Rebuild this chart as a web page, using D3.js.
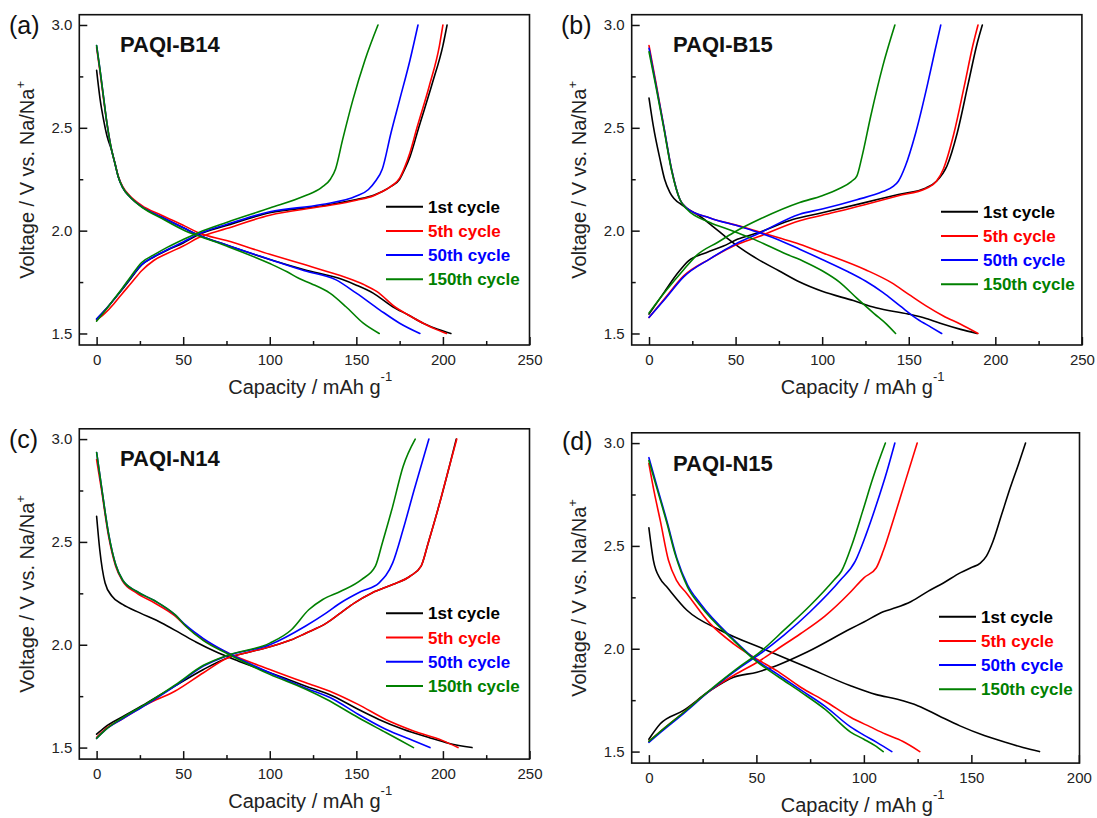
<!DOCTYPE html>
<html><head><meta charset="utf-8">
<script src="https://cdn.jsdelivr.net/npm/d3@7"></script>
<style>body{margin:0;background:#fff}svg{display:block}text{font-family:"Liberation Sans",Arial,Helvetica,sans-serif}</style>
</head><body>
<script>
// ---------- DATA ----------
const cycles = ['1st cycle', '5th cycle', '50th cycle', '150th cycle'];
const cycleColors = ['#000000', '#ff0000', '#0000ff', '#008000'];
const panelLabels = ['(a)', '(b)', '(c)', '(d)'];
const panelTitles = ['PAQI-B14', 'PAQI-B15', 'PAQI-N14', 'PAQI-N15'];
const xTicksWide = [0, 50, 100, 150, 200, 250];
const xTicksNarrow = [0, 50, 100, 150, 200];
const yTicks = [1.5, 2.0, 2.5, 3.0];

// (a) PAQI-B14  [capacity mAh/g, voltage V]
const a1Dis = [[0,2.78],[2,2.64],[4,2.54],[6,2.46],[8.7,2.39],[10.5,2.33],[12.5,2.262],[15,2.21],[19.2,2.165],[26,2.117],[37.5,2.066],[51,2.01],[58.7,1.979],[75,1.93],[100,1.86],[120,1.81],[142,1.762],[150,1.735],[159.7,1.696],[171,1.63],[180,1.59],[188.6,1.55],[197,1.52],[204.6,1.5]];
const a5Dis = [[0,2.89],[2,2.77],[4,2.64],[6,2.52],[8.7,2.39],[10.5,2.33],[12.5,2.265],[15,2.215],[19.2,2.17],[26,2.123],[37.5,2.075],[51,2.022],[58.7,1.99],[75,1.952],[100,1.885],[120,1.835],[135,1.797],[148,1.76],[155,1.735],[161.7,1.705],[173,1.625],[180,1.59],[188.6,1.55],[196,1.52],[202,1.5]];
const a50Dis = [[0,2.9],[2,2.78],[4,2.65],[6,2.52],[8.7,2.39],[10.5,2.33],[12.5,2.262],[15,2.21],[19.2,2.165],[26,2.117],[37.5,2.066],[51,2.01],[58.7,1.979],[75,1.93],[100,1.86],[120,1.805],[138,1.762],[150,1.696],[163.6,1.614],[175,1.55],[186.7,1.5]];
const a150Dis = [[0,2.9],[2,2.78],[4,2.65],[6,2.52],[8.7,2.39],[10.5,2.33],[12.5,2.262],[15,2.21],[19.2,2.165],[26,2.115],[37.5,2.06],[51,2.0],[58.7,1.975],[75,1.925],[100,1.84],[110,1.8],[117,1.767],[124,1.742],[134.7,1.696],[144,1.63],[154,1.55],[163.2,1.5]];
const a1Chg = [[0,1.57],[5,1.615],[10,1.665],[14.4,1.71],[20,1.77],[26,1.833],[33,1.872],[41,1.906],[50,1.94],[58.7,1.98],[75,2.025],[100,2.087],[130,2.12],[150,2.151],[160,2.172],[165,2.19],[170,2.215],[175,2.25],[178,2.3],[181,2.36],[186,2.5],[194,2.72],[200,2.9],[202.4,3.0]];
const a5Chg = [[0,1.565],[5,1.6],[10,1.645],[14.4,1.69],[20,1.745],[26,1.805],[33,1.855],[41,1.89],[50,1.925],[58.7,1.965],[75,2.01],[100,2.075],[130,2.117],[150,2.148],[160,2.17],[165,2.19],[170,2.215],[175,2.255],[178,2.31],[181,2.38],[185,2.5],[192,2.7],[198,2.9],[200,3.0]];
const a50Chg = [[0,1.57],[5,1.615],[10,1.665],[14.4,1.712],[20,1.775],[26,1.835],[33,1.873],[41,1.908],[50,1.945],[58.7,1.983],[75,2.03],[100,2.092],[130,2.127],[150,2.168],[157,2.2],[161,2.24],[165,2.3],[170,2.475],[175,2.636],[181,2.83],[185.6,3.0]];
const a150Chg = [[0,1.56],[5,1.612],[10,1.667],[14.4,1.715],[20,1.78],[26,1.845],[33,1.882],[41,1.92],[50,1.957],[58.7,1.99],[75,2.04],[100,2.11],[120,2.168],[130,2.21],[135,2.25],[138,2.3],[142,2.44],[148,2.636],[155,2.83],[162.5,3.0]];

// (b) PAQI-B15
const b1Dis = [[0,2.645],[2.5,2.508],[6.4,2.345],[9,2.25],[12.1,2.185],[19.8,2.12],[29.4,2.07],[37,2.02],[44.9,1.965],[52,1.92],[62,1.865],[75,1.805],[87,1.75],[100,1.705],[118,1.66],[131,1.625],[150,1.594],[160,1.573],[170,1.545],[180,1.52],[189.5,1.5]];
const b5Dis = [[0,2.9],[4,2.72],[8.5,2.508],[13.1,2.295],[17.9,2.15],[21.8,2.11],[35.2,2.062],[52.5,2.022],[62,1.998],[75,1.965],[87,1.934],[100,1.893],[125,1.81],[140,1.747],[150,1.69],[160,1.634],[170,1.585],[180,1.545],[190,1.5]];
const b50Dis = [[0,2.887],[4,2.71],[8.5,2.508],[13.1,2.295],[17.9,2.15],[21.8,2.11],[35.2,2.062],[52.5,2.02],[62,1.995],[75,1.955],[87,1.91],[100,1.86],[115,1.8],[125,1.755],[135,1.70],[145,1.634],[155,1.57],[163,1.53],[169,1.5]];
const b150Dis = [[0,2.87],[4,2.7],[8.5,2.5],[13.1,2.29],[17.9,2.15],[21.8,2.105],[35.2,2.04],[48,2.0],[60,1.96],[79.5,1.885],[90,1.848],[100,1.805],[110,1.75],[120,1.672],[130,1.597],[137,1.547],[142.4,1.5]];
const b1Chg = [[0,1.594],[8.7,1.70],[16.8,1.796],[22.8,1.853],[33,1.893],[43,1.925],[51,1.958],[63,1.99],[83,2.054],[100,2.087],[124,2.135],[144,2.176],[160,2.208],[166,2.24],[172,2.313],[178,2.475],[184.4,2.717],[189.5,2.91],[192.5,3.0]];
const b5Chg = [[0,1.578],[10,1.68],[20,1.78],[35.2,1.863],[50,1.93],[63,1.97],[87,2.048],[100,2.075],[124,2.125],[144,2.17],[160,2.205],[166,2.24],[170,2.3],[176,2.47],[182,2.7],[187,2.9],[190,3.0]];
const b50Chg = [[0,1.578],[10,1.675],[20,1.775],[35.2,1.863],[50,1.935],[63,1.985],[87,2.08],[100,2.105],[120,2.15],[135,2.19],[141,2.215],[144,2.24],[148,2.313],[154,2.475],[161,2.717],[165,2.87],[168.5,3.0]];
const b150Chg = [[0,1.60],[10,1.71],[20,1.81],[27.5,1.88],[40,1.945],[48.7,1.99],[65,2.06],[87,2.137],[100,2.17],[110,2.205],[117,2.24],[120,2.265],[123,2.36],[128,2.555],[135,2.8],[142,3.0]];

// (c) PAQI-N14
const c1Dis = [[0,2.625],[1.8,2.463],[4.9,2.30],[8.9,2.236],[15,2.196],[25,2.155],[37.3,2.107],[47.5,2.06],[57.6,2.012],[69.8,1.962],[82,1.92],[100,1.864],[120.5,1.80],[136.7,1.75],[151,1.686],[163,1.637],[177,1.589],[191.5,1.55],[203.7,1.52],[216.8,1.5]];
const c5Dis = [[0,2.9],[2.8,2.754],[6.9,2.528],[11,2.382],[15,2.31],[23,2.252],[33.3,2.204],[45.4,2.139],[51.5,2.09],[61.7,2.024],[75.9,1.96],[100,1.88],[120.5,1.816],[136.7,1.767],[151,1.71],[167,1.637],[183.4,1.58],[199.6,1.535],[208.7,1.5]];
const c50Dis = [[0,2.935],[2.8,2.77],[6.9,2.54],[11,2.39],[15,2.315],[23,2.26],[33.3,2.215],[45.4,2.145],[51.5,2.095],[61.7,2.03],[75.9,1.96],[100,1.864],[120.5,1.79],[136.7,1.735],[151,1.662],[167,1.589],[183.4,1.532],[192.5,1.5]];
const c150Dis = [[0,2.935],[2.8,2.77],[6.9,2.54],[11,2.39],[15,2.315],[23,2.26],[33.3,2.215],[45.4,2.145],[51.5,2.09],[61.7,2.02],[75.9,1.955],[100,1.856],[120.5,1.785],[132.7,1.735],[151,1.646],[167,1.573],[183,1.5]];
const c1Chg = [[0,1.565],[4.9,1.60],[15,1.65],[29,1.717],[45.4,1.80],[61.7,1.88],[75.9,1.937],[86,1.96],[100,1.99],[112.5,2.024],[120.5,2.055],[132.7,2.105],[141,2.155],[149,2.204],[159,2.252],[171,2.293],[181,2.333],[187.4,2.382],[191.5,2.495],[197.6,2.673],[203.7,2.867],[207.7,3.0]];
const c5Chg = [[0,1.55],[4.9,1.59],[15,1.64],[29,1.71],[45.4,1.775],[61.7,1.864],[75.9,1.937],[86,1.96],[100,1.99],[112.5,2.024],[120.5,2.055],[132.7,2.105],[141,2.155],[149,2.204],[159,2.252],[171,2.293],[181,2.333],[187.4,2.382],[191.5,2.495],[197.6,2.673],[203.7,2.867],[208,3.0]];
const c50Chg = [[0,1.545],[4.9,1.585],[15,1.64],[29,1.71],[45.4,1.80],[61.7,1.896],[75.9,1.948],[100,2.0],[120.5,2.09],[132.7,2.155],[141,2.204],[153,2.26],[163,2.3],[171,2.398],[177,2.56],[183.4,2.754],[191.9,3.0]];
const c150Chg = [[0,1.545],[4.9,1.585],[15,1.645],[29,1.715],[45.4,1.805],[61.7,1.9],[75.9,1.95],[100,2.008],[112.5,2.073],[122.5,2.17],[130.6,2.22],[141,2.26],[153,2.317],[161,2.382],[165,2.495],[171,2.673],[177,2.867],[184,3.0]];

// (d) PAQI-N15
const d1Dis = [[0,2.588],[2.1,2.43],[5.3,2.34],[8.4,2.30],[17.7,2.187],[33.2,2.09],[55,1.992],[73.6,1.91],[93.8,1.82],[105.8,1.777],[115.6,1.754],[125.3,1.722],[135,1.673],[144.7,1.625],[156,1.578],[165.8,1.545],[174,1.52],[181.7,1.5]];
const d5Dis = [[0,2.9],[2.5,2.76],[5.3,2.623],[9.1,2.43],[13,2.33],[17.7,2.268],[28.5,2.122],[39.4,2.024],[48.7,1.959],[60,1.89],[70.6,1.813],[82,1.745],[93.8,1.667],[103,1.62],[110,1.585],[118,1.55],[126,1.5]];
const d50Dis = [[0,2.929],[4,2.78],[8.4,2.62],[13,2.44],[18,2.31],[23.9,2.22],[39.4,2.045],[48.7,1.955],[60,1.875],[70.6,1.80],[82,1.72],[93.8,1.62],[100,1.58],[106,1.545],[113,1.5]];
const d150Dis = [[0,2.915],[4,2.77],[8.4,2.61],[12.2,2.46],[18,2.3],[23.9,2.21],[39.4,2.04],[48.7,1.95],[60,1.865],[70.6,1.79],[82,1.705],[93.8,1.595],[100,1.56],[105,1.53],[109,1.5]];
const d1Chg = [[0,1.56],[5.3,1.635],[16.1,1.70],[28.5,1.797],[39.4,1.862],[50.3,1.886],[59.6,1.919],[73.6,1.984],[93.8,2.097],[100,2.13],[109,2.18],[115,2.2],[122,2.23],[130,2.28],[137,2.32],[145,2.37],[150,2.395],[154,2.415],[157,2.45],[160,2.52],[164,2.65],[168,2.78],[172,2.9],[175.2,3.0]];
const d5Chg = [[0,1.55],[5,1.595],[16.1,1.69],[28.5,1.797],[39.4,1.87],[51.8,1.943],[60,2.0],[70.5,2.073],[82,2.16],[93.8,2.276],[100,2.345],[105.8,2.394],[109,2.475],[114,2.636],[118.8,2.798],[124.8,3.0]];
const d50Chg = [[0,1.545],[5,1.59],[16.1,1.685],[28.5,1.797],[42.5,1.91],[51.8,1.976],[62.7,2.065],[75,2.18],[89,2.333],[96,2.426],[101,2.555],[105.8,2.70],[110.7,2.862],[114.4,3.0]];
const d150Chg = [[0,1.55],[5,1.595],[16.1,1.69],[28.5,1.80],[42.5,1.915],[51.8,1.985],[62.7,2.089],[75,2.21],[86,2.333],[89.6,2.378],[94.5,2.507],[99.4,2.668],[104.2,2.83],[110,3.0]];

// ---------- LAYOUT ----------
const FONT = '"Liberation Sans",Arial,Helvetica,sans-serif';
const yDomain = [1.444, 3.05];
const panels = [
  {box:[79.3,529.5,14.7,345], xDom:[-10,250], xTicks:xTicksWide, curves:[[a1Dis,a1Chg],[a5Dis,a5Chg],[a50Dis,a50Chg],[a150Dis,a150Chg]], leg:[386,206.7,24.2], lab:[9,33.5], tit:[120,51.7]},
  {box:[631.7,1081.9,14.7,345], xDom:[-10,250], xTicks:xTicksWide, curves:[[b1Dis,b1Chg],[b5Dis,b5Chg],[b50Dis,b50Chg],[b150Dis,b150Chg]], leg:[941,211.7,24.2], lab:[561,33.5], tit:[673,51.7]},
  {box:[79.3,529.5,428.8,759.1], xDom:[-10,250], xTicks:xTicksWide, curves:[[c1Dis,c1Chg],[c5Dis,c5Chg],[c50Dis,c50Chg],[c150Dis,c150Chg]], leg:[386,613.3,24.2], lab:[9,447.5], tit:[120,465.5]},
  {box:[631.7,1079.5,432.8,763.1], xDom:[-8,200.3], xTicks:xTicksNarrow, curves:[[d1Dis,d1Chg],[d5Dis,d5Chg],[d50Dis,d50Chg],[d150Dis,d150Chg]], leg:[939,616.7,24.2], lab:[562,450], tit:[673,470.5]}
];

const svg = d3.select('body').append('svg').attr('width',1097).attr('height',818);

panels.forEach((p, pi) => {
  const [x0,x1,y0,y1] = p.box;
  const x = d3.scaleLinear().domain(p.xDom).range([x0,x1]);
  const y = d3.scaleLinear().domain(yDomain).range([y1,y0]);
  const g = svg.append('g');

  const line = d3.line().x(d => x(d[0])).y(d => y(d[1])).curve(d3.curveMonotoneX);
  p.curves.forEach((pair, i) => {
    pair.forEach(arr => {
      g.append('path').attr('d', line(arr)).attr('fill','none')
        .attr('stroke', cycleColors[i]).attr('stroke-width',1.6)
        .attr('stroke-linejoin','round').attr('stroke-linecap','round');
    });
  });

  // minor ticks
  const minorX = d3.range(25, p.xDom[1], 50);
  g.append('g').attr('transform',`translate(0,${y1})`)
    .call(d3.axisBottom(x).tickValues(minorX).tickSize(-4).tickFormat(''))
    .call(s => { s.select('.domain').remove(); s.selectAll('line').attr('stroke','#111').attr('stroke-width',1.5); });
  g.append('g').attr('transform',`translate(${x0},0)`)
    .call(d3.axisLeft(y).tickValues([1.75,2.25,2.75]).tickSize(-4).tickFormat(''))
    .call(s => { s.select('.domain').remove(); s.selectAll('line').attr('stroke','#111').attr('stroke-width',1.5); });

  // major ticks + labels
  g.append('g').attr('transform',`translate(0,${y1})`)
    .call(d3.axisBottom(x).tickValues(p.xTicks).tickSize(-8).tickPadding(9.5).tickFormat(d3.format('d')))
    .call(s => { s.select('.domain').remove(); s.selectAll('line').attr('stroke','#111').attr('stroke-width',1.5);
      s.selectAll('text').attr('font-family',FONT).attr('font-size',15).attr('fill','#222'); });
  g.append('g').attr('transform',`translate(${x0},0)`)
    .call(d3.axisLeft(y).tickValues(yTicks).tickSize(-8).tickPadding(7).tickFormat(d3.format('.1f')))
    .call(s => { s.select('.domain').remove(); s.selectAll('line').attr('stroke','#111').attr('stroke-width',1.5);
      s.selectAll('text').attr('font-family',FONT).attr('font-size',15).attr('fill','#222'); });

  // frame
  g.append('rect').attr('x',x0).attr('y',y0).attr('width',x1-x0).attr('height',y1-y0)
    .attr('fill','none').attr('stroke','#111').attr('stroke-width',1.6);

  // axis titles
  const yt = g.append('text').attr('transform',`translate(${x0-45.8},${(y0+y1)/2}) rotate(-90)`)
    .attr('text-anchor','middle').attr('font-family',FONT).attr('font-size',20).attr('fill','#222');
  yt.append('tspan').text('Voltage / V vs. Na/Na');
  yt.append('tspan').attr('dy',-9).attr('font-size',13).text('+');

  const xt = g.append('text').attr('x', x0+149).attr('y', y1+49)
    .attr('font-family',FONT).attr('font-size',20).attr('fill','#222');
  xt.append('tspan').text('Capacity / mAh g');
  xt.append('tspan').attr('dy',-13).attr('font-size',13).text('-1');

  // panel label and title
  g.append('text').attr('x',p.lab[0]).attr('y',p.lab[1]).attr('font-family',FONT)
    .attr('font-size',25).attr('fill','#111').text(panelLabels[pi]);
  g.append('text').attr('x',p.tit[0]).attr('y',p.tit[1]).attr('font-family',FONT)
    .attr('font-size',22).attr('font-weight','bold').attr('fill','#111').text(panelTitles[pi]);

  // legend
  const [lx, ly, ld] = p.leg;
  cycles.forEach((c, i) => {
    const yy = ly + i*ld;
    g.append('line').attr('x1',lx).attr('x2',lx+37).attr('y1',yy).attr('y2',yy)
      .attr('stroke',cycleColors[i]).attr('stroke-width',2);
    g.append('text').attr('x',lx+42).attr('y',yy+6).attr('font-family',FONT)
      .attr('font-size',17).attr('font-weight','bold').attr('fill',cycleColors[i]).text(c);
  });
});
</script>
</body></html>
